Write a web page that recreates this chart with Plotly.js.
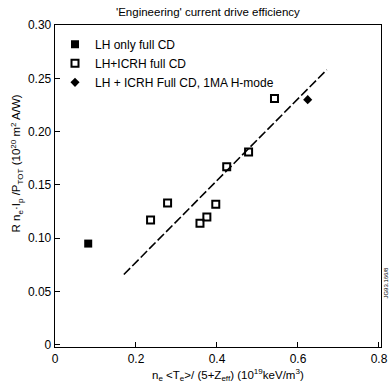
<!DOCTYPE html>
<html>
<head>
<meta charset="utf-8">
<script src="https://cdn.plot.ly/plotly-3.0.1.min.js"></script>
<style>html,body{margin:0;padding:0;background:#fff;}#chart{width:390px;height:390px;}</style>
</head>
<body>
<div id="chart"></div>
<script>
// Data
const lhOnlyX = [0.082];
const lhOnlyY = [0.095];
const lhIcrhX = [0.236, 0.278, 0.358, 0.375, 0.397, 0.424, 0.478, 0.542];
const lhIcrhY = [0.117, 0.133, 0.114, 0.120, 0.132, 0.167, 0.181, 0.231];
const hModeX = [0.624];
const hModeY = [0.230];
const fitX = [0.170, 0.671];
const fitY = [0.066, 0.258];
const xTickVals = [0, 0.2, 0.4, 0.6, 0.8];
const xTickText = ['0', '0.2', '0.4', '0.6', '0.8'];
const yTickVals = [0, 0.05, 0.10, 0.15, 0.20, 0.25, 0.30];
const yTickText = ['0', '0.05', '0.10', '0.15', '0.20', '0.25', '0.30'];

const FONT = 'Liberation Sans, Arial, sans-serif';
const INK = '#000';

const traces = [
  {x: lhOnlyX, y: lhOnlyY, mode: 'markers', type: 'scatter', name: 'LH only full CD',
   marker: {symbol: 'square', size: 8, color: INK}},
  {x: lhIcrhX, y: lhIcrhY, mode: 'markers', type: 'scatter', name: 'LH+ICRH full CD',
   marker: {symbol: 'square-open', size: 7, color: INK, line: {width: 2, color: INK}}},
  {x: hModeX, y: hModeY, mode: 'markers', type: 'scatter', name: 'LH + ICRH Full CD, 1MA H-mode',
   marker: {symbol: 'diamond', size: 7, color: INK}},
  {x: fitX, y: fitY, mode: 'lines', type: 'scatter', showlegend: false,
   line: {color: INK, width: 1.6, dash: '9px,3px'}}
];

const layout = {
  width: 390, height: 390,
  margin: {l: 55, r: 9, t: 25, b: 43},
  paper_bgcolor: '#fff', plot_bgcolor: '#fff',
  font: {family: FONT, color: INK, size: 12},
  showlegend: true,
  legend: {x: 0.0, y: 0.985, xanchor: 'left', yanchor: 'top', bgcolor: 'rgba(0,0,0,0)',
           font: {family: FONT, size: 12, color: INK}, tracegroupgap: 0, itemwidth: 30},
  xaxis: {range: [0, 0.805], tickvals: xTickVals, ticktext: xTickText, ticks: 'inside', ticklen: 5,
          tickcolor: INK, showline: true, linecolor: INK, linewidth: 1.3, mirror: true,
          showgrid: false, zeroline: false, tickfont: {size: 12, family: FONT, color: INK}},
  yaxis: {range: [-0.002, 0.30], tickvals: yTickVals, ticktext: yTickText, ticks: 'inside', ticklen: 5,
          tickcolor: INK, showline: true, linecolor: INK, linewidth: 1.3, mirror: true,
          showgrid: false, zeroline: false, tickfont: {size: 12, family: FONT, color: INK}},
  annotations: [
    {text: "'Engineering' current drive efficiency", xref: 'paper', yref: 'paper', x: 0.47, y: 1.0,
     yshift: 13, xanchor: 'center', yanchor: 'middle', showarrow: false, font: {size: 11.5, family: FONT, color: INK}},
    {text: 'n<sub>e</sub> &lt;T<sub>e</sub>&gt;/ (5+Z<sub>eff</sub>) (10<sup>19</sup>keV/m<sup>3</sup>)',
     xref: 'paper', yref: 'paper', x: 0.53, y: 0, yshift: -18, xanchor: 'center', yanchor: 'top',
     showarrow: false, font: {size: 11.5, family: FONT, color: INK}},
    {text: 'R n<sub>e</sub>·I<sub>p</sub> /P<sub>TOT</sub> (10<sup>20</sup> m<sup>2</sup> A/W)',
     xref: 'paper', yref: 'paper', x: 0, xshift: -48, y: 0.57, xanchor: 'left', yanchor: 'middle',
     textangle: -90, showarrow: false, font: {size: 11.5, family: FONT, color: INK}},
    {text: 'JG93.166/8', xref: 'paper', yref: 'paper', x: 1, xshift: 5, y: 0.2, xanchor: 'center',
     yanchor: 'middle', textangle: -90, showarrow: false, font: {size: 6, family: FONT, color: INK}}
  ]
};

Plotly.newPlot('chart', traces, layout, {displayModeBar: false, staticPlot: true});
</script>
</body>
</html>
